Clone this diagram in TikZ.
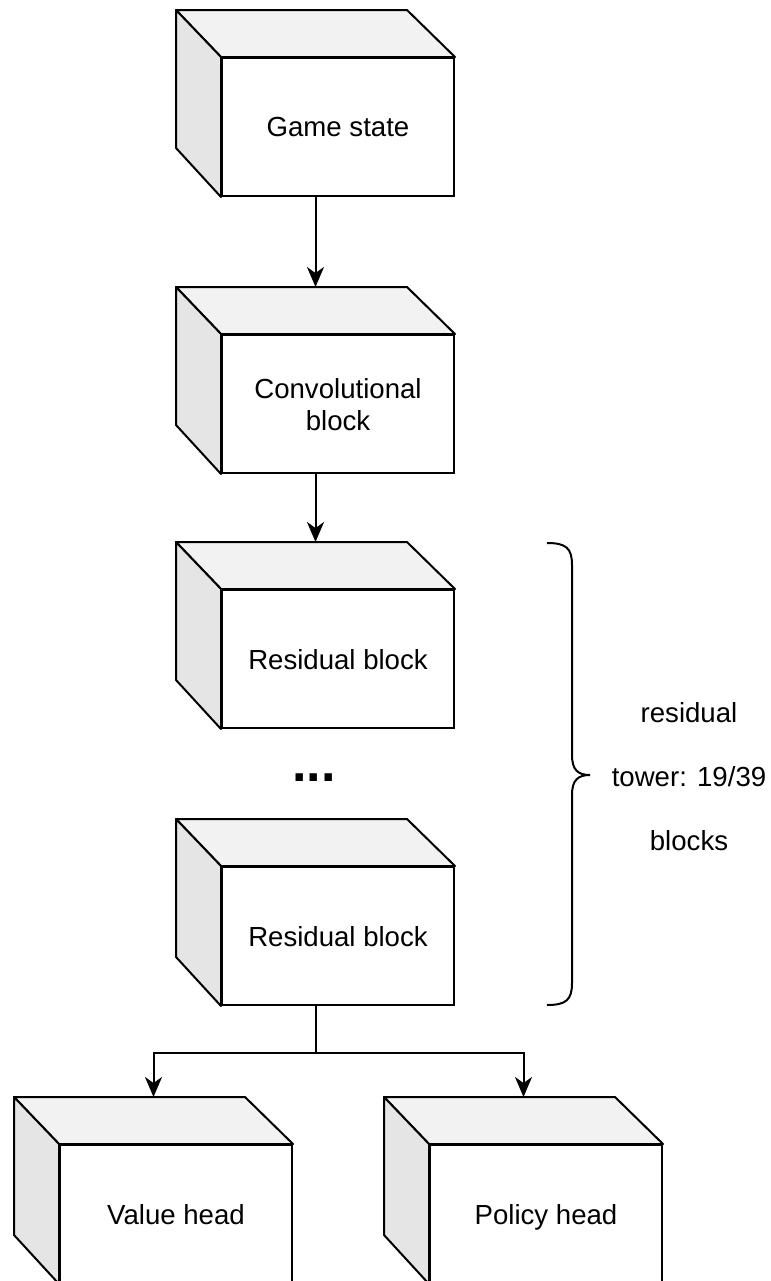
\documentclass[tikz,border=0pt]{standalone}
\usepackage{fontspec}
\setmainfont{Liberation Sans}
\usetikzlibrary{arrows.meta}

\definecolor{cubetopgray}{HTML}{F2F2F2}
\definecolor{cubesidegray}{HTML}{E5E5E5}

\tikzset{
  blockface/.style={draw, line width=1pt, fill=white, minimum width=116pt,
    minimum height=69pt, inner sep=0pt, align=center, text depth=0pt,
    font=\fontsize{13.8}{16}\selectfont},
  cubetop/.style={draw, line width=1pt, fill=cubetopgray, line join=round},
  cubeside/.style={draw, line width=1pt, fill=cubesidegray, line join=round},
  flow/.style={line width=1pt, -{Stealth[length=10pt,width=8.5pt,inset=3pt]}},
}

% top and left faces behind a front face
\newcommand{\cubeback}[1]{%
  \filldraw[cubetop] (#1.north west) -- ++(-45,-47) -- ++(231,0) -- (#1.north east) -- cycle;
  \filldraw[cubeside] (#1.north west) -- ++(-45,-47) -- ++(0,138) -- (#1.south west) -- cycle;
}

\begin{document}
\begin{tikzpicture}[x=0.5pt,y=-0.5pt]
  \useasboundingbox (0,0) rectangle (771,1281);
  \clip (0,0) rectangle (771,1281);

  % blocks
  \node[blockface] (game) at (338,127) {Game state};
  \node[blockface] (conv) at (338,404) {Convolutional\\block};
  \node[blockface] (res1) at (338,659) {Residual block};
  \node[blockface] (res2) at (338,936) {Residual block};
  \node[blockface] (value) at (176,1214) {Value head};
  \node[blockface] (policy) at (546,1214) {Policy head};
  \foreach \n in {game,conv,res1,res2,value,policy}{\cubeback{\n}}

  \node[anchor=base, font=\fontsize{26}{30}\selectfont\bfseries] (dots) at (314,781) {...};

  % connectors
  \draw[flow] ([xshift=-11.25pt]game.south) -- ([xshift=-11.25pt,yshift=23.5pt]conv.north);
  \draw[flow] ([xshift=-11.25pt]conv.south) -- ([xshift=-11.25pt,yshift=23.5pt]res1.north);
  \coordinate (fork) at ([xshift=-11.25pt,yshift=-23.5pt]res2.south);
  \draw[line width=1pt] ([xshift=-11.25pt]res2.south) -- (fork);
  \draw[flow] (fork) -| ([xshift=-11.25pt,yshift=23.5pt]value.north);
  \draw[flow] (fork) -| ([xshift=-11.25pt,yshift=23.5pt]policy.north);

  % brace over the tower
  \draw[line width=1pt] (547,543) .. controls (566,543) and (572,548) .. (572,565)
    -- (572,755) .. controls (572,770) and (578,775) .. (590,775)
    .. controls (578,775) and (572,780) .. (572,795)
    -- (572,983) .. controls (572,1000) and (566,1005) .. (547,1005);
  \node[align=center, font=\fontsize{13.8}{32}\selectfont] (tower) at (689,777)
    {residual\\tower: 19/39\\blocks};
\end{tikzpicture}
\end{document}
